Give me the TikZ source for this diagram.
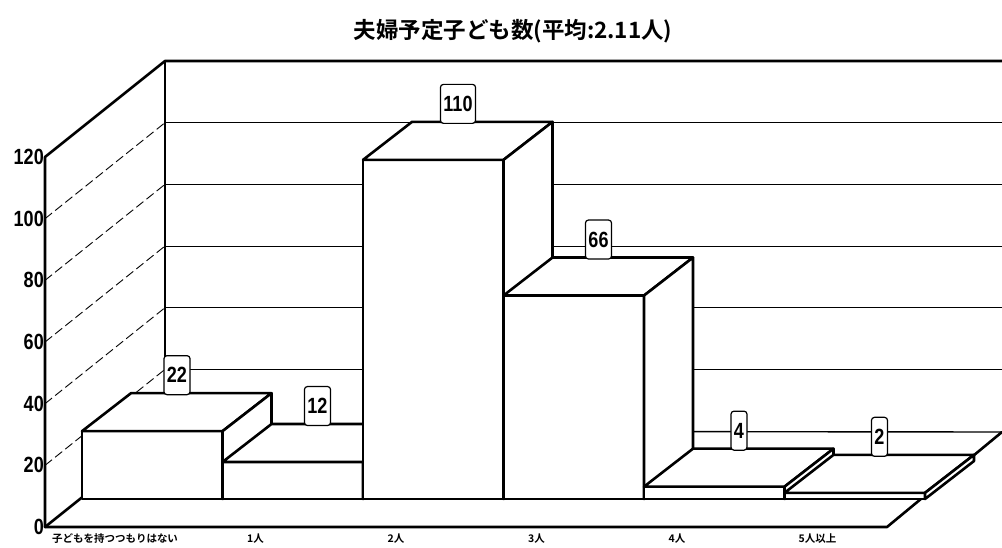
\documentclass[tikz,border=0pt]{standalone}
\usepackage{fontspec}
\newfontfamily\jpfont{Noto Sans CJK JP Bold}
\newfontfamily\numfont{Liberation Sans Bold}[FakeStretch=0.82]
\tikzset{
  frameline/.style={line width=2.6pt, line join=round, line cap=round},
  backgrid/.style={line width=0.9pt},
  sidegrid/.style={line width=0.9pt, dash pattern=on 9pt off 4pt},
  barface/.style={fill=white, draw=black, line width=2.6pt, line join=round},
  vlabel/.style={draw, line width=1.2pt, rounded corners=3pt, fill=white,
    font=\numfont\fontsize{22}{22}\selectfont, minimum height=39pt,
    inner xsep=3pt, inner ysep=0pt},
  ticklabel/.style={anchor=east, inner sep=0pt, font=\numfont\fontsize{22}{22}\selectfont},
  catlabel/.style={inner sep=0pt, font=\jpfont\fontsize{10.5}{11}\selectfont},
  titlelabel/.style={inner sep=0pt, font=\jpfont\fontsize{22.5}{23}\selectfont}
}
\begin{document}
\begin{tikzpicture}[x=1pt,y=-1pt]
\useasboundingbox (0,0) rectangle (1002,547);
\node[titlelabel] (title) at (513,31) {夫婦予定子ども数(平均:2.11人)};
% floor
\coordinate (ffl) at (45,527);
\coordinate (ffr) at (887,527);
\coordinate (fbr) at (1002,432);
\coordinate (fbl) at (165,431);
\fill[white] (ffl) -- (ffr) -- (fbr) -- (fbl) -- cycle;
\draw[line width=1.4pt] (fbl) -- (fbr);
\draw[frameline] (ffl) -- (ffr) -- (fbr);
\draw[frameline] (ffl) -- (fbl);
% gridlines
\foreach \v in {20,40,60,80,100}{
  \pgfmathsetmacro\yb{431-3.083*\v}
  \pgfmathsetmacro\yf{527-3.083*\v}
  \draw[sidegrid] (45,\yf) -- (165,\yb);
  \draw[backgrid] (165,\yb) -- (1002,\yb);
}
% walls
\coordinate (wtl) at (45,157);
\coordinate (wbt) at (165,61);
\draw[line width=1.4pt] (wbt) -- (fbl);
\draw[frameline] (ffl) -- (wtl) -- (wbt) -- (1002,61);
% tick labels
\foreach \v in {0,20,40,60,80,100,120}{
  \pgfmathsetmacro\yf{527-3.083*\v}
  \node[ticklabel] (t\v) at (44,\yf) {\v};
}
% bars
\foreach \i/\v in {0/22,1/12,2/110,3/66,4/4,5/2}{
  \pgfmathsetmacro\x{82+140.5*\i}
  \pgfmathsetmacro\xr{\x+140.5}
  \pgfmathsetmacro\h{3.083*\v}
  \pgfmathsetmacro\yt{499-\h}
  \pgfmathsetmacro\ytb{\yt-38}
  \draw[barface] (\x,499) rectangle (\xr,\yt);
  \draw[barface] (\x,\yt) -- (\xr,\yt) -- (\xr+49,\ytb) -- (\x+49,\ytb) -- cycle;
  \draw[barface] (\xr,499) -- (\xr+49,461) -- (\xr+49,\ytb) -- (\xr,\yt) -- cycle;
  \node[vlabel] (v\i) at (\x+95,\yt-56) {\v};
}
% category labels
\foreach \i/\t in {0/子どもを持つつもりはない,1/1人,2/2人,3/3人,4/4人,5/5人以上}{
  \node[catlabel] (c\i) at (45+140.5*\i+70,539) {\t};
}
\end{tikzpicture}
\end{document}
